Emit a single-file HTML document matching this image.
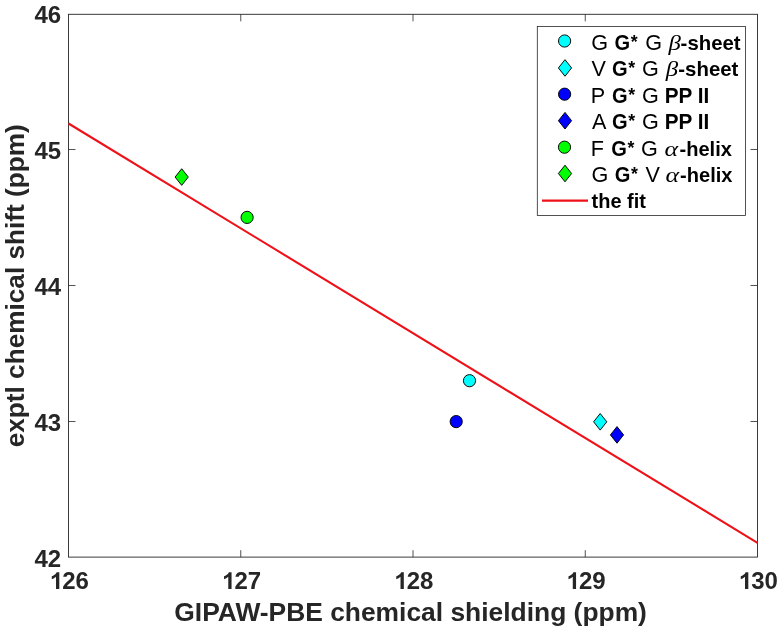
<!DOCTYPE html>
<html><head><meta charset="utf-8">
<style>
html,body{margin:0;padding:0;background:#fff;width:783px;height:631px;overflow:hidden}
svg{display:block;will-change:transform;filter:blur(0.35px)}
text{font-family:"Liberation Sans",sans-serif}
.tk{font-size:24px;font-weight:bold;fill:#262626}
.lb{font-size:26.4px;font-weight:bold;fill:#262626}
.lg{font-size:21.6px;fill:#000}
.b{font-weight:bold}
.st{font-size:19.1px}
.gr{font-family:"Liberation Serif",serif;font-style:italic}
</style></head><body>
<svg width="783" height="631" viewBox="0 0 783 631">
<rect x="0" y="0" width="783" height="631" fill="#fff"/>
<!-- axes box -->
<rect x="68.5" y="14.3" width="689" height="542.8" fill="none" stroke="#262626" stroke-width="0.9"/>
<!-- ticks -->
<g stroke="#262626" stroke-width="0.8">
<!-- x ticks bottom -->
<path d="M240.75 557.1V550.2M413 557.1V550.2M585.25 557.1V550.2"/>
<!-- x ticks top -->
<path d="M240.75 14.3V21.3M413 14.3V21.3M585.25 14.3V21.3"/>
<!-- y ticks left -->
<path d="M68.5 149.5H75.5M68.5 285.5H75.5M68.5 421.5H75.5"/>
<!-- y ticks right -->
<path d="M757.5 149.5H750.5M757.5 285.5H750.5M757.5 421.5H750.5"/>
</g>
<!-- y tick labels -->
<g class="tk" text-anchor="end">
<text transform="translate(61.2 23) scale(1 1.02)">46</text>
<text transform="translate(61.2 159) scale(1 1.02)">45</text>
<text transform="translate(61.2 295) scale(1 1.02)">44</text>
<text transform="translate(61.2 431) scale(1 1.02)">43</text>
<text transform="translate(61.2 567) scale(1 1.02)">42</text>
</g>
<!-- x tick labels -->
<g class="tk">
<path d="M890 0H609V1057Q455 913 246 844V1099Q356 1135 485 1235Q614 1335 662 1466H890Z" fill="#262626" transform="translate(48.88 589) scale(0.011719 -0.01149)"/>
<text transform="translate(62.23 589) scale(1 1.02)">26</text>
<path d="M890 0H609V1057Q455 913 246 844V1099Q356 1135 485 1235Q614 1335 662 1466H890Z" fill="#262626" transform="translate(221.13 589) scale(0.011719 -0.01149)"/>
<text transform="translate(234.48 589) scale(1 1.02)">27</text>
<path d="M890 0H609V1057Q455 913 246 844V1099Q356 1135 485 1235Q614 1335 662 1466H890Z" fill="#262626" transform="translate(393.38 589) scale(0.011719 -0.01149)"/>
<text transform="translate(406.73 589) scale(1 1.02)">28</text>
<path d="M890 0H609V1057Q455 913 246 844V1099Q356 1135 485 1235Q614 1335 662 1466H890Z" fill="#262626" transform="translate(565.63 589) scale(0.011719 -0.01149)"/>
<text transform="translate(578.98 589) scale(1 1.02)">29</text>
<path d="M890 0H609V1057Q455 913 246 844V1099Q356 1135 485 1235Q614 1335 662 1466H890Z" fill="#262626" transform="translate(737.88 589) scale(0.011719 -0.01149)"/>
<text transform="translate(751.23 589) scale(1 1.02)">30</text>
</g>
<!-- axis labels -->
<text class="lb" x="410.6" y="621" text-anchor="middle">GIPAW-PBE chemical shielding (ppm)</text>
<text class="lb" style="font-size:26.2px" transform="translate(24.2 285.8) rotate(-90)" text-anchor="middle">exptl chemical shift (ppm)</text>
<!-- fit line -->
<line x1="68.5" y1="123.5" x2="757.5" y2="542.8" stroke="#ee1118" stroke-width="2.1"/>
<!-- data -->
<g stroke="#000" stroke-width="0.95">
<circle cx="469.5" cy="380.7" r="6.1" fill="#00ffff"/>
<path d="M600.2 413.50L606.80 421.8L600.2 430.10L593.60 421.8Z" fill="#00ffff"/>
<circle cx="456.2" cy="421.6" r="6.1" fill="#0000ff"/>
<path d="M617 426.60L623.60 434.9L617 443.20L610.40 434.9Z" fill="#0000ff"/>
<circle cx="247.1" cy="217.4" r="6.1" fill="#00ff00"/>
<path d="M181.7 168.75L188.30 177.05L181.7 185.35L175.10 177.05Z" fill="#00ff00"/>
</g>
<!-- legend -->
<rect x="537.3" y="26.4" width="208.1" height="189" fill="#fff" stroke="#262626" stroke-width="0.8"/>
<g stroke="#000" stroke-width="0.95">
<circle cx="564.6" cy="41.0" r="6.1" fill="#00ffff"/>
<path d="M565 59.65L571.60 67.95L565 76.25L558.40 67.95Z" fill="#00ffff"/>
<circle cx="564.6" cy="94.2" r="6.1" fill="#0000ff"/>
<path d="M565 112.40L571.60 120.7L565 129.00L558.40 120.7Z" fill="#0000ff"/>
<circle cx="564.5" cy="147.2" r="6.1" fill="#00ff00"/>
<path d="M565 165.20L571.60 173.5L565 181.80L558.40 173.5Z" fill="#00ff00"/>
</g>
<line x1="542" y1="200.6" x2="588" y2="200.6" stroke="#ee1118" stroke-width="2.1"/>
<g class="lg">
<text x="591.3" y="50">G</text>
<text transform="translate(614.4 50) scale(0.93 1)" class="b">G</text>
<text transform="translate(630.7 48) scale(0.93 1)" class="b st">*</text>
<text x="645.2" y="50">G</text>
<text transform="translate(668.6 50) scale(1.15 1)" class="gr">β</text>
<text transform="translate(680.6 50) scale(0.945 0.895)" class="b">-sheet</text>
<text x="591.5" y="76">V</text>
<text transform="translate(612.0 76) scale(0.93 1)" class="b">G</text>
<text transform="translate(628.3 74) scale(0.93 1)" class="b st">*</text>
<text x="642.1" y="76">G</text>
<text transform="translate(665.7 76) scale(1.15 1)" class="gr">β</text>
<text transform="translate(678.3 76) scale(0.945 0.895)" class="b">-sheet</text>
<text x="590.8" y="103">P</text>
<text transform="translate(612.0 103) scale(0.93 1)" class="b">G</text>
<text transform="translate(628.3 101) scale(0.93 1)" class="b st">*</text>
<text x="642.1" y="103">G</text>
<text transform="translate(664.8 103) scale(0.96 1)" class="b">PP II</text>
<text x="591.9" y="129">A</text>
<text transform="translate(612.0 129) scale(0.93 1)" class="b">G</text>
<text transform="translate(628.3 127) scale(0.93 1)" class="b st">*</text>
<text x="642.1" y="129">G</text>
<text transform="translate(664.8 129) scale(0.96 1)" class="b">PP II</text>
<text x="590.8" y="156">F</text>
<text transform="translate(611.2 156) scale(0.93 1)" class="b">G</text>
<text transform="translate(627.5 154) scale(0.93 1)" class="b st">*</text>
<text x="641.0" y="156">G</text>
<text transform="translate(664.5 156) scale(1.2 1)" class="gr">α</text>
<text transform="translate(679.5 156) scale(0.93 0.895)" class="b">-helix</text>
<text x="591.5" y="182">G</text>
<text transform="translate(614.8 182) scale(0.93 1)" class="b">G</text>
<text transform="translate(631.1 180) scale(0.93 1)" class="b st">*</text>
<text x="645.6" y="182">V</text>
<text transform="translate(665.5 182) scale(1.2 1)" class="gr">α</text>
<text transform="translate(680.1 182) scale(0.93 0.895)" class="b">-helix</text>
<text transform="translate(591.55 208) scale(0.925 0.9)" class="b">the fit</text>
</g>
</svg>
</body></html>
